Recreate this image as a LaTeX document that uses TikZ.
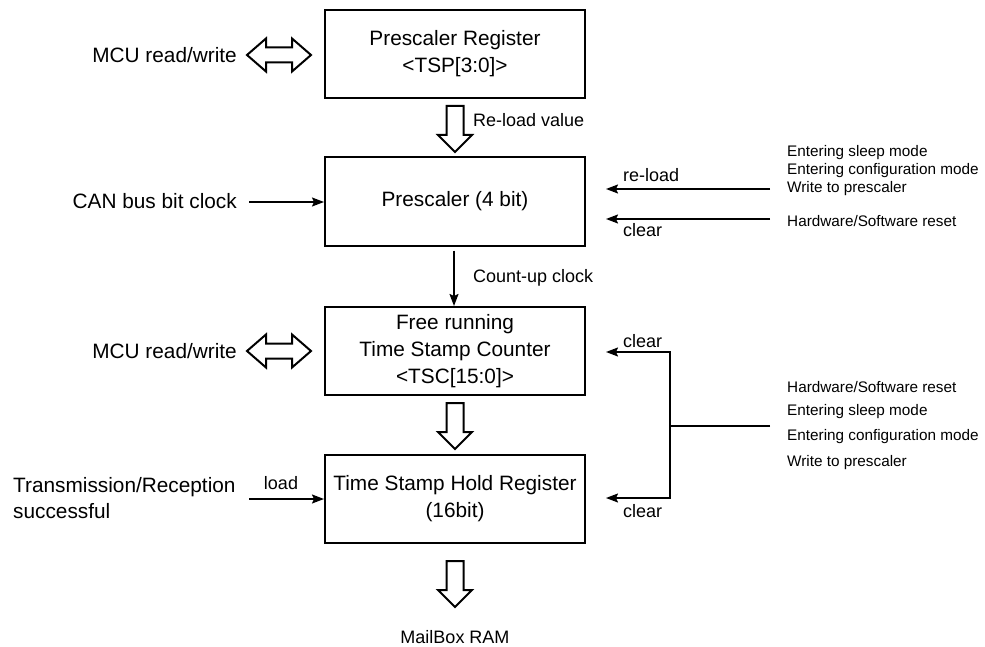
\documentclass[tikz,border=0pt]{standalone}
\usepackage{fontspec}
\setmainfont{Liberation Sans}
\usetikzlibrary{arrows.meta,calc}
\begin{document}
\begin{tikzpicture}[x=1pt,y=-1pt,
 box/.style={draw,line width=2pt,minimum width=260pt,minimum height=88pt,align=center,font=\fontsize{20.8}{27}\selectfont,inner sep=0pt},
 lbl/.style={font=\fontsize{20.8}{26}\selectfont,inner sep=0pt},
 sml/.style={font=\fontsize{18}{22}\selectfont,inner sep=0pt},
 tiny/.style={font=\fontsize{15.3}{18}\selectfont,inner sep=0pt,anchor=west},
 hollow/.style={draw,line width=2pt,fill=white,line join=miter},
 sig/.style={line width=1.6pt,-{Stealth[length=12pt,width=9pt,inset=2pt]}},
 wire/.style={line width=1.6pt},
 downarr/.pic={\draw[hollow] (-8.5,0) -- (-8.5,29) -- (-17,29) -- (0,46) -- (17,29) -- (8.5,29) -- (8.5,0) -- cycle;},
 duoarr/.pic={\draw[hollow] (0,0) -- (19,-16.5) -- (19,-7.5) -- (45,-7.5) -- (45,-16.5) -- (64,0) -- (45,16.5) -- (45,7.5) -- (19,7.5) -- (19,16.5) -- cycle;}]
\useasboundingbox (0,0) rectangle (985,647);

% boxes
\node[box] (b1) at (455,54) {Prescaler Register\\<TSP[3:0]>};
\node[box] (b2) at (455,201.5) {Prescaler (4 bit)};
\node[box] (b3) at (455,351) {Free running\\Time Stamp Counter\\<TSC[15:0]>};
\node[box] (b4) at (455,499) {Time Stamp Hold Register\\(16bit)};

% hollow block arrows
\pic at ($(b1.south)+(0,7)$) {downarr};
\node[sml,anchor=west] (rlv) at (473,120) {Re-load value};
\pic at ($(b3.south)+(0,7)$) {downarr};
\pic at ($(b4.south)+(0,17)$) {downarr};
\node[sml] (mb) at (455,637) {MailBox RAM};

% count-up clock
\draw[sig] ($(b2.south)+(-1,4)$) -- ($(b3.north)+(-1,0)$);
\node[sml,anchor=west] (cuc) at (473,278) {Count-up clock};

% left side
\node[lbl,anchor=east] (mcu1) at (237,55) {MCU read/write};
\pic at ($(b1.west)+(-77,1)$) {duoarr};
\node[lbl,anchor=east] (can) at (237,201) {CAN bus bit clock};
\coordinate (cans) at (249,202);
\draw[sig] (cans) -- (cans -| b2.west);
\node[lbl,anchor=east] (mcu2) at (237,351) {MCU read/write};
\pic at ($(b3.west)+(-77,0)$) {duoarr};
\node[lbl,anchor=west,align=left] (tx) at (13,498) {Transmission/Reception\\successful};
\node[sml] (ld) at (281,483) {load};
\coordinate (lds) at (249,499);
\draw[sig] (lds) -- (lds -| b4.west);

% right upper
\node[tiny] (e1) at (787,153) {Entering sleep mode};
\node[tiny] (e2) at (787,171) {Entering configuration mode};
\node[tiny] (e3) at (787,189) {Write to prescaler};
\node[tiny] (e4) at (787,221) {Hardware/Software reset};
\coordinate (b2r) at ($(b2.east)+(20,0)$);
\coordinate (rl) at (770,189);
\coordinate (cl) at (770,219);
\draw[sig] (rl) -- (rl -| b2r);
\draw[sig] (cl) -- (cl -| b2r);
\node[sml,anchor=west] (rlt) at (623,175) {re-load};
\node[sml,anchor=west] (clt) at (623,230) {clear};

% right lower
\coordinate (src) at (770,426);
\coordinate (j) at (670,426);
\draw[wire] (src) -- (j);
\draw[sig] (j) |- ($(b3.east)+(20,1)$);
\draw[sig] (j) |- ($(b4.east)+(20,-1)$);
\node[sml,anchor=west] (c3) at (623,341) {clear};
\node[sml,anchor=west] (c4) at (623,511) {clear};
\node[tiny] (f1) at (787,387) {Hardware/Software reset};
\node[tiny] (f2) at (787,412) {Entering sleep mode};
\node[tiny] (f3) at (787,437) {Entering configuration mode};
\node[tiny] (f4) at (787,463) {Write to prescaler};
\end{tikzpicture}
\end{document}
